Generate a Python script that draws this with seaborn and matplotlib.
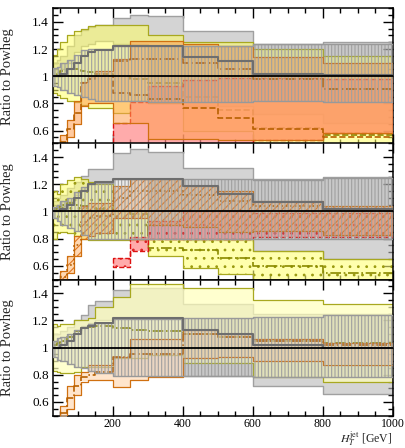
import numpy as np
import matplotlib
matplotlib.use("Agg")
import matplotlib.pyplot as plt
from matplotlib.ticker import MultipleLocator, FixedLocator
import seaborn as sns
import pandas as pd

nan = np.nan
edges = [30, 40, 50, 70, 90, 110, 130, 150, 200, 250, 300, 400, 500, 600, 800, 1000]

# ---------------- panel 1 ----------------
p1_grey_up = [1.10, 1.12, 1.15, 1.22, 1.30, 1.34, 1.36, 1.38, 1.43, 1.45, 1.44, 1.33, 1.33, 1.24, 1.25]
p1_grey_lo = [1.02, 1.03, 1.05, 1.10, 1.18, 1.22, 1.24, 1.26, 1.24, 1.24, 0.80, 0.78, 0.78, 0.72, 0.66]
p1_yel_up = [1.16, 1.20, 1.25, 1.30, 1.33, 1.35, 1.37, 1.38, 1.38, 1.38, 1.30, 1.25, 1.25, 1.20, 1.15]
p1_yel_lo = [0.88, 0.86, 0.84, 0.82, 0.81, 0.79, 0.77, 0.77, 0.73, 0.82, 0.80, 0.60, 0.60, 0.45, 0.45]
p1_red_up = [nan] * 8 + [0.66, 0.81, 0.93, 0.97, 0.99, 0.985, 0.98]
p1_red_lo = [nan] * 8 + [0.45, 0.45, 0.45, 0.45, 0.45, 0.53, 0.58]
p1_ora_up = [nan, nan, 0.57, 0.68, 0.82, 0.96, 1.00, 1.04, 1.13, 1.26, 1.26, 1.24, 1.22, 1.145, 1.10]
p1_ora_lo = [nan, nan, 0.48, 0.55, 0.65, 0.78, 0.80, 0.80, 0.66, 0.66, 0.54, 0.54, 0.53, 0.53, 0.58]
p1_hat_up = [1.06, 1.07, 1.10, 1.12, 1.16, 1.19, 1.20, 1.20, 1.22, 1.22, 1.22, 1.22, 1.22, 1.24, 1.24]
p1_hat_lo = [0.93, 0.92, 0.90, 0.88, 0.86, 0.85, 0.83, 0.82, 0.82, 0.82, 0.81, 0.81, 0.81, 0.82, 0.81]
p1_dark = [1.00, 1.00, 1.02, 1.05, 1.10, 1.15, 1.18, 1.19, 1.22, 1.22, 1.22, 1.14, 1.11, 1.02, 1.01]
p1_yel_c = [1.00, 1.02, 1.04, 1.05, 1.05, 1.04, 1.03, 1.02, 1.00, 0.98, 0.95, 0.85, 0.75, 0.62, 0.57]
p1_ora_c = [nan, nan, 0.52, 0.61, 0.73, 0.95, 0.98, 1.00, 0.88, 0.86, 0.83, 0.77, 0.69, 0.61, 0.55]
p1_ora_dd = [nan] * 8 + [1.11, 1.13, 1.13, 1.10, 1.05, 0.98, 0.91]

# ---------------- panel 2 ----------------
p2_grey_up = [1.08, 1.10, 1.12, 1.17, 1.22, 1.26, 1.31, 1.31, 1.43, 1.46, 1.44, 1.32, 1.32, 1.24, 1.25]
p2_grey_lo = [1.00, 1.02, 1.04, 1.08, 1.12, 1.16, 1.20, 1.22, 1.24, 1.24, 0.80, 0.79, 0.79, 0.71, 0.65]
p2_yel_up = [1.15, 1.13, 1.20, 1.23, 1.25, 1.24, 1.22, 1.20, 1.00, 1.00, 0.80, 0.80, 0.80, 0.71, 0.65]
p2_yel_lo = [0.80, 0.84, 0.85, 0.84, 0.82, 0.80, 0.79, 0.79, 0.79, 0.79, 0.67, 0.585, 0.54, 0.45, 0.45]
p2_red_up = [nan] * 8 + [0.66, 0.81, 0.93, 1.00, 1.00, 0.99, 0.99]
p2_red_lo = [nan] * 8 + [0.59, 0.71, 0.80, 0.80, 0.80, 0.81, 0.81]
p2_ora_up = [nan, nan, 0.56, 0.67, 0.82, 1.04, 1.06, 1.06, 1.19, 1.24, 1.24, 1.19, 1.15, 1.075, 1.04]
p2_ora_lo = [nan, nan, 0.47, 0.55, 0.67, 0.80, 0.82, 0.84, 0.95, 0.95, 0.90, 0.885, 0.85, 0.86, 0.83]
p2_hat_up = [1.03, 1.05, 1.08, 1.10, 1.14, 1.18, 1.20, 1.21, 1.24, 1.24, 1.24, 1.24, 1.24, 1.23, 1.245]
p2_hat_lo = [0.95, 0.93, 0.90, 0.88, 0.86, 0.83, 0.80, 0.80, 0.80, 0.80, 0.795, 0.795, 0.795, 0.795, 0.795]
p2_dark = [1.00, 1.00, 1.02, 1.05, 1.10, 1.15, 1.20, 1.22, 1.24, 1.24, 1.24, 1.19, 1.13, 1.07, 1.02]
p2_yel_c = [1.02, 1.03, 1.05, 1.06, 1.05, 1.04, 1.03, 1.02, 1.00, 0.98, 0.73, 0.72, 0.66, 0.60, 0.55]
p2_ora_c = [nan, nan, 0.52, 0.61, 0.75, 0.92, 0.95, 0.97, 1.10, 1.15, 1.15, 1.12, 1.08, 1.04, 1.01]

# ---------------- panel 3 ----------------
p3_grey_up = [1.10, 1.10, 1.12, 1.15, 1.20, 1.24, 1.31, 1.34, 1.42, 1.44, 1.44, 1.32, 1.32, 1.245, 1.245]
p3_grey_lo = [1.02, 1.03, 1.05, 1.08, 1.12, 1.16, 1.18, 1.20, 1.22, 1.22, 1.22, 0.79, 0.79, 0.72, 0.66]
p3_yel_up = [1.17, 1.16, 1.17, 1.17, 1.20, 1.20, 1.22, 1.30, 1.37, 1.47, 1.47, 1.44, 1.44, 1.35, 1.32]
p3_yel_lo = [0.83, 0.82, 0.81, 0.81, 0.82, 0.86, 0.86, 0.86, 0.92, 0.92, 0.945, 0.885, 0.885, 0.78, 0.745]
p3_ora_up = [nan, nan, 0.57, 0.72, 0.80, 0.82, 0.87, 0.87, 0.93, 1.06, 1.06, 1.13, 1.10, 1.06, 1.03]
p3_ora_lo = [nan, nan, 0.48, 0.55, 0.65, 0.75, 0.76, 0.76, 0.71, 0.76, 0.78, 0.92, 0.93, 0.90, 0.875]
p3_hat_up = [1.05, 1.07, 1.08, 1.10, 1.13, 1.15, 1.17, 1.18, 1.21, 1.21, 1.21, 1.22, 1.22, 1.225, 1.24]
p3_hat_lo = [0.93, 0.91, 0.90, 0.88, 0.86, 0.85, 0.83, 0.81, 0.79, 0.79, 0.79, 0.79, 0.79, 0.78, 0.78]
p3_dark = [1.00, 1.00, 1.02, 1.05, 1.10, 1.14, 1.16, 1.18, 1.22, 1.22, 1.22, 1.13, 1.10, 1.02, 1.00]
p3_yel_c = [1.02, 1.03, 1.05, 1.08, 1.12, 1.14, 1.15, 1.16, 1.14, 1.13, 1.12, 1.10, 1.08, 1.05, 1.03]
p3_ora_c = [nan, nan, 0.52, 0.63, 0.72, 0.78, 0.80, 0.82, 0.93, 0.95, 0.95, 1.10, 1.08, 1.05, 1.02]

xticks = [200, 400, 600, 800, 1000]
yticks = [0.6, 0.8, 1.0, 1.2, 1.4]
ytick_labels = ["0.6", "0.8", "1", "1.2", "1.4"]

sns.set_theme(style="ticks")
plt.rcParams["font.family"] = ["Liberation Serif", "DejaVu Serif"]
plt.rcParams["mathtext.fontset"] = "stix"
plt.rcParams["hatch.linewidth"] = 0.8

X = np.array(edges, float)


def ext(v):
    v = np.asarray(v, float)
    return np.append(v, v[-1])


def band(ax, up, lo, face, alpha, edge, lw=0.9, ls="-", hatch=None, hcol=None, z=1):
    u, l = ext(up), ext(lo)
    ax.fill_between(X, l, u, step="post", facecolor=face, alpha=alpha, linewidth=0, zorder=z)
    if hatch:
        ax.fill_between(X, l, u, step="post", facecolor="none", edgecolor=hcol,
                        hatch=hatch, linewidth=0, zorder=z + 0.1)
    ax.fill_between(X, l, u, step="post", facecolor="none", edgecolor=edge,
                    linewidth=lw, linestyle=ls, zorder=z + 0.2)


def step_line(ax, vals, color, ls, lw, z):
    v = np.asarray(vals, float)
    idx = np.where(~np.isnan(v))[0]
    if len(idx) == 0:
        return
    i0, i1 = idx[0], idx[-1]
    xs = X[i0:i1 + 2]
    ys = np.append(v[i0:i1 + 1], v[i1])
    df = pd.DataFrame({"x": xs, "y": ys})
    sns.lineplot(data=df, x="x", y="y", ax=ax, color=color, linestyle=ls, linewidth=lw,
                 drawstyle="steps-post", estimator=None, sort=False, zorder=z)


fig = plt.figure(figsize=(4.05, 4.48), dpi=100)
L, R = 53 / 405, 393 / 405
tops = [8.3, 143.5, 279.5]
h = 136.0
axes = []
for t in tops:
    ax = fig.add_axes([L, 1 - (t + h) / 448, R - L, h / 448])
    axes.append(ax)

panels = [
    dict(g=(p1_grey_up, p1_grey_lo), y=(p1_yel_up, p1_yel_lo), r=(p1_red_up, p1_red_lo),
         o=(p1_ora_up, p1_ora_lo), hb=(p1_hat_up, p1_hat_lo), d=p1_dark,
         yc=p1_yel_c, oc=p1_ora_c, odd=p1_ora_dd,
         ycol="#ffff66", yal=0.55, yhatch=None, ocol="#ffa050", oal=0.55, ohatch=None,
         ocline="--", ycline="--", rhatch=None),
    dict(g=(p2_grey_up, p2_grey_lo), y=(p2_yel_up, p2_yel_lo), r=(p2_red_up, p2_red_lo),
         o=(p2_ora_up, p2_ora_lo), hb=(p2_hat_up, p2_hat_lo), d=p2_dark,
         yc=p2_yel_c, oc=p2_ora_c, odd=None,
         ycol="#ffff77", yal=0.6, yhatch="..", ocol="#ffaa55", oal=0.45, ohatch="////",
         ocline=":", ycline="-.", rhatch=".."),
    dict(g=(p3_grey_up, p3_grey_lo), y=(p3_yel_up, p3_yel_lo), r=None,
         o=(p3_ora_up, p3_ora_lo), hb=(p3_hat_up, p3_hat_lo), d=p3_dark,
         yc=p3_yel_c, oc=p3_ora_c, odd=None,
         ycol="#ffffbb", yal=0.7, yhatch=None, ocol="#ffd4aa", oal=0.6, ohatch=None,
         ocline="-.", ycline="-.", rhatch=None),
]

for i, (ax, p) in enumerate(zip(axes, panels)):
    band(ax, *p["g"], face="#b8b8b8", alpha=0.6, edge="#a0a0a0", lw=1.0, z=1)
    band(ax, *p["y"], face=p["ycol"], alpha=p["yal"], edge="#a8a820", lw=0.9,
         hatch=p["yhatch"], hcol="#9a9a10", z=2)
    step_line(ax, p["yc"], "#8a8a00", p["ycline"], 1.2, 2.5)
    if p["r"] is not None:
        band(ax, *p["r"], face="#ff8888", alpha=0.7, edge="#dd1111", lw=1.0, ls="--",
             hatch=p["rhatch"], hcol="#dd2222", z=3)
    band(ax, *p["o"], face=p["ocol"], alpha=p["oal"], edge="#d07010", lw=0.9,
         hatch=p["ohatch"], hcol="#e07722", z=4)
    step_line(ax, p["oc"], "#b86000", p["ocline"], 1.2, 4.5)
    if p["odd"] is not None:
        step_line(ax, p["odd"], "#b86000", "-.", 1.2, 4.5)
    band(ax, *p["hb"], face="#9a9a9a", alpha=0.2, edge="#999999", lw=1.0,
         hatch="|||||", hcol="#a0a0a0", z=5)
    step_line(ax, p["d"], "#6e6e6e", "-", 1.5, 6)
    ax.axhline(1.0, color="black", lw=1.3, zorder=7)

    ax.set_xlim(30, 1000)
    ax.set_ylim(0.5, 1.5)
    ax.xaxis.set_major_locator(FixedLocator(xticks))
    ax.xaxis.set_minor_locator(MultipleLocator(50))
    ax.yaxis.set_major_locator(FixedLocator(yticks))
    ax.yaxis.set_minor_locator(MultipleLocator(0.05))
    ax.set_yticklabels(ytick_labels)
    ax.tick_params(which="both", direction="in", top=True, right=True, colors="black",
                   labelsize=9.5, width=1.0, pad=3)
    ax.tick_params(axis="x", labelsize=8.5, pad=1.5)
    ax.tick_params(which="major", length=7)
    ax.tick_params(which="minor", length=3.5)
    for s in ax.spines.values():
        s.set_linewidth(1.1)
        s.set_color("black")
    ax.set_ylabel("Ratio to Powheg", fontsize=10.5)
    ax.yaxis.set_label_coords(-0.115, 0.5)
    ax.set_xlabel("")
    if i < 2:
        ax.set_xticklabels([])
    else:
        ax.set_xticklabels([str(t) for t in xticks])

fig.text(392 / 405, (448 - 442.5) / 448, r"$H_T^{\mathrm{jet}}$ [GeV]", fontsize=8.5,
         ha="right", va="baseline")

fig.savefig("out.png", dpi=100)
